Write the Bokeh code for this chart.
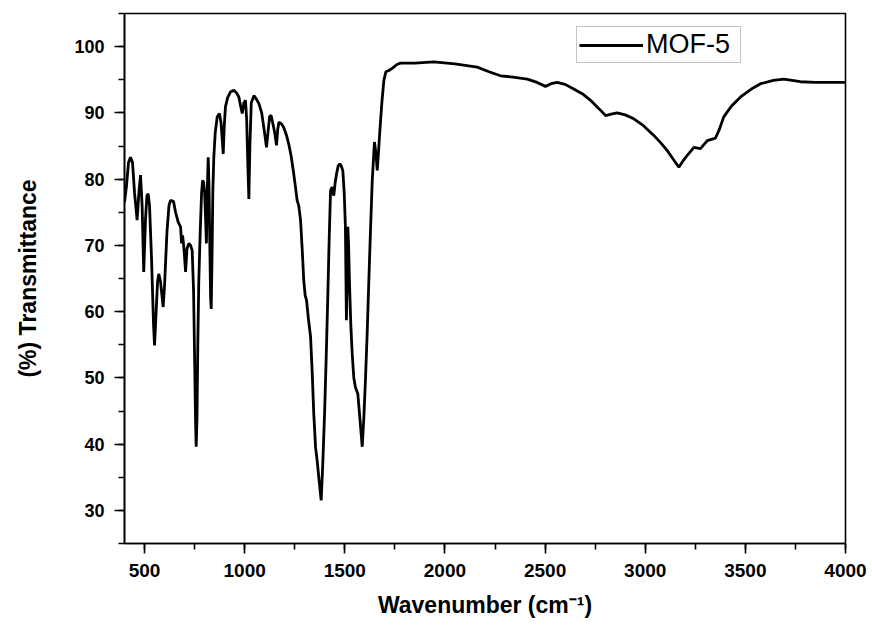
from bokeh.plotting import figure
from bokeh.models import Range1d, FixedTicker, Legend, LegendItem
from bokeh.embed import file_html
from bokeh.resources import INLINE

wavenumber = [400, 410, 420, 430, 440, 450, 463, 472, 480, 488, 496, 505, 512, 518, 525, 535, 545, 550,
              558, 565, 571, 580, 593, 600, 612, 622, 630, 645, 655, 668, 680, 685, 690, 697, 705, 712,
              721, 730, 738, 745, 750, 755, 758, 762, 766, 771, 778, 785, 790, 795, 800, 805, 809, 813,
              818, 822, 826, 830, 833, 837, 841, 846, 853, 863, 874, 882, 888, 893, 898, 904, 915, 930,
              946, 960, 971, 980, 988, 996, 1004, 1010, 1016, 1021, 1026, 1033, 1046, 1060, 1071, 1085,
              1097, 1109, 1118, 1125, 1132, 1140, 1150, 1159, 1165, 1171, 1185, 1195, 1210, 1220, 1232,
              1245, 1255, 1262, 1270, 1279, 1288, 1295, 1302, 1309, 1318, 1329, 1337, 1345, 1354, 1362,
              1370, 1382, 1390, 1399, 1407, 1415, 1422, 1429, 1437, 1445, 1452, 1459, 1467, 1475, 1482,
              1490, 1497, 1503, 1508, 1512, 1515, 1519, 1523, 1530, 1537, 1545, 1553, 1565, 1575, 1587,
              1595, 1603, 1612, 1620, 1628, 1637, 1648, 1655, 1662, 1668, 1675, 1685, 1695, 1705, 1720,
              1740, 1760, 1778, 1850, 1944, 2050, 2161, 2220, 2277, 2340, 2411, 2460, 2502, 2530, 2560,
              2600, 2643, 2690, 2727, 2770, 2802, 2830, 2860, 2900, 2943, 2990, 3043, 3080, 3110, 3140,
              3168, 3190, 3210, 3243, 3276, 3310, 3351, 3370, 3392, 3430, 3476, 3530, 3576, 3640, 3692,
              3775, 3850, 3930, 4000]
transmittance = [76.5, 79.0, 82.5, 83.3, 82.5, 78.0, 73.8, 78.0, 80.6, 76.0, 66.0, 74.0, 77.5, 77.8, 76.0,
                 68.0, 58.0, 54.9, 60.0, 64.5, 65.7, 64.5, 60.7, 64.0, 72.0, 76.0, 76.8, 76.6, 75.0, 73.5,
                 72.8, 70.3, 71.5, 69.5, 66.0, 69.5, 70.3, 70.0, 69.2, 63.0, 53.0, 43.0, 39.6, 44.0, 55.0,
                 64.7, 72.0, 78.0, 79.8, 79.5, 78.0, 74.0, 70.3, 78.0, 83.3, 79.0, 70.0, 62.0, 60.4, 68.0,
                 78.0, 83.3, 87.0, 89.4, 89.9, 88.5, 86.0, 83.8, 88.0, 90.9, 92.3, 93.2, 93.4, 93.0, 92.4,
                 91.0, 89.9, 91.5, 91.9, 89.0, 82.0, 77.0, 85.0, 91.5, 92.6, 92.0, 91.4, 90.0, 87.5, 84.8,
                 87.5, 89.5, 89.6, 88.5, 87.0, 85.1, 87.5, 88.6, 88.3, 87.8, 86.5, 85.3, 83.5, 80.8, 78.5,
                 76.8, 76.0, 73.8, 69.0, 64.7, 62.5, 61.7, 59.0, 56.2, 51.0, 44.6, 39.5, 37.5, 35.0, 31.5,
                 37.0, 44.6, 53.0, 62.2, 71.0, 78.3, 78.8, 77.5, 79.5, 80.8, 82.0, 82.3, 82.0, 81.3, 78.0,
                 72.8, 58.7, 65.0, 72.8, 70.0, 64.7, 58.0, 53.6, 50.0, 48.6, 47.6, 44.0, 39.6, 44.0, 49.6,
                 57.0, 64.7, 72.0, 79.8, 85.6, 84.0, 81.3, 84.0, 87.3, 91.5, 94.9, 96.2, 96.4, 96.8, 97.3,
                 97.5, 97.5, 97.7, 97.4, 96.9, 96.2, 95.6, 95.4, 95.1, 94.6, 94.0, 94.4, 94.6, 94.3, 93.6,
                 92.8, 91.9, 90.6, 89.6, 89.8, 90.0, 89.7, 89.1, 88.1, 86.6, 85.4, 84.3, 83.0, 81.8, 82.8,
                 83.6, 84.8, 84.6, 85.8, 86.2, 87.5, 89.4, 91.0, 92.4, 93.6, 94.4, 94.9, 95.1, 94.7, 94.6,
                 94.6, 94.6]

x_ticks = [500, 1000, 1500, 2000, 2500, 3000, 3500, 4000]
y_ticks = [30, 40, 50, 60, 70, 80, 90, 100]

p = figure(width=872, height=635, output_backend="svg", toolbar_location=None,
           x_range=Range1d(400, 4000), y_range=Range1d(25, 105),
           min_border_left=124, min_border_right=27, min_border_top=13, min_border_bottom=92)

r = p.line(wavenumber, transmittance, line_color="black", line_width=2.8)

p.xgrid.visible = False
p.ygrid.visible = False
p.outline_line_color = "black"
p.outline_line_width = 1.6
p.background_fill_color = "white"
p.border_fill_color = "white"

for ax in (p.xaxis[0], p.yaxis[0]):
    ax.axis_line_width = 1.6
    ax.major_tick_line_width = 1.6
    ax.minor_tick_line_width = 1.6
    ax.major_tick_in = 0
    ax.major_tick_out = 10
    ax.minor_tick_in = 0
    ax.minor_tick_out = 6
    ax.major_label_text_font = "Liberation Sans"
    ax.major_label_text_font_style = "bold"
    ax.major_label_text_color = "black"
    ax.axis_label_text_font = "Liberation Sans"
    ax.axis_label_text_font_style = "bold"
    ax.axis_label_text_color = "black"
    ax.axis_label_text_font_size = "23px"

p.xaxis.ticker = FixedTicker(ticks=x_ticks, minor_ticks=list(range(250, 4001, 250)))
p.yaxis.ticker = FixedTicker(ticks=y_ticks, minor_ticks=list(range(25, 106, 5)))
p.xaxis.major_label_text_font_size = "19px"
p.yaxis.major_label_text_font_size = "18px"
p.xaxis.major_label_standoff = 10
p.yaxis.major_label_standoff = 10
p.xaxis.axis_label = "Wavenumber (cm\u207b\u00b9)"
p.yaxis.axis_label = "(%) Transmittance"
p.xaxis.axis_label_standoff = 12
p.yaxis.axis_label_standoff = 30

legend = Legend(items=[LegendItem(label="MOF-5", renderers=[r])], location=(452, 480))
legend.border_line_color = "#888888"
legend.border_line_width = 1
legend.padding = 2
legend.margin = 0
legend.spacing = 0
legend.glyph_width = 64
legend.glyph_height = 28
legend.label_standoff = 3
legend.label_height = 28
legend.label_width = 92
legend.label_text_font = "Liberation Sans"
legend.label_text_font_size = "27px"
legend.label_text_color = "black"
legend.background_fill_alpha = 1
p.add_layout(legend)

open("out.html", "w").write(file_html(p, INLINE))
